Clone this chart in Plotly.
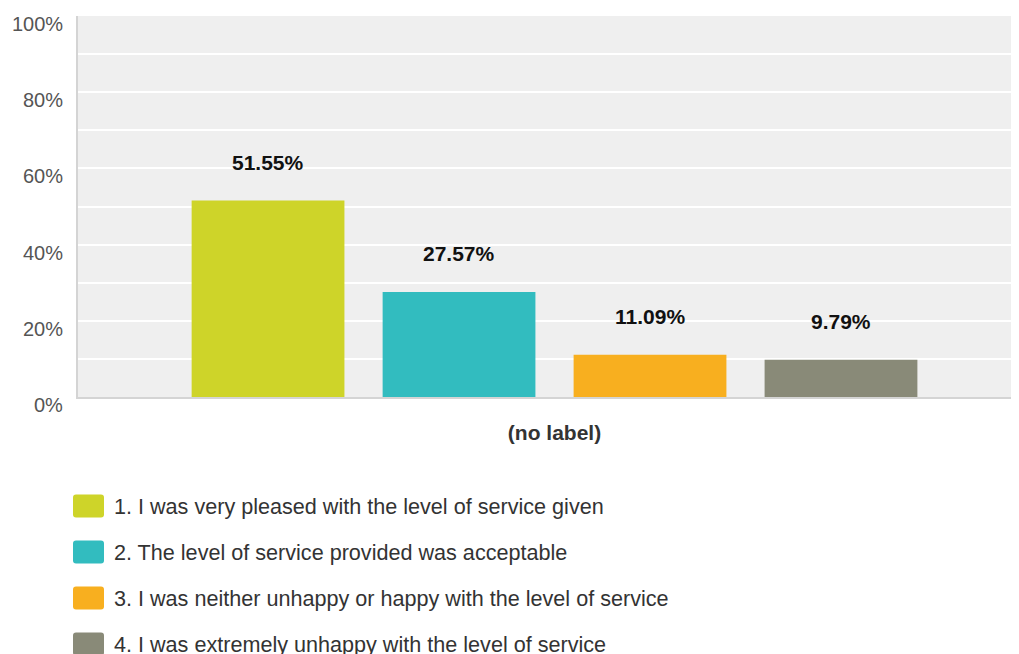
import plotly.graph_objects as go

# survey answers (single question, no label)
answers = [
    "1. I was very pleased with the level of service given",
    "2. The level of service provided was acceptable",
    "3. I was neither unhappy or happy with the level of service",
    "4. I was extremely unhappy with the level of service",
]
shares = [51.55, 27.57, 11.09, 9.79]
colors = ["#ced429", "#32bcbf", "#f8af1f", "#898a78"]
positions = [0, 1, 2, 3]

y_ticks = [0, 10, 20, 30, 40, 50, 60, 70, 80, 90, 100]
y_labels = ["0%", "", "20%", "", "40%", "", "60%", "", "80%", "", "100%"]

FONT = "Liberation Sans, Arial, sans-serif"

fig = go.Figure()
for pos, val, col, name in zip(positions, shares, colors, answers):
    fig.add_bar(x=[pos], y=[val], name=name, marker_color=col,
                marker_line_width=0, width=0.8, showlegend=False,
                hovertemplate="%{y:.2f}%<extra></extra>")

# value labels above the bars
for pos, val in zip(positions, shares):
    fig.add_annotation(x=pos, y=val, text=f"<b>{val:.2f}%</b>", showarrow=False,
                       yshift=38, font=dict(family=FONT, size=21, color="#111"))

# y tick labels sit a little below their grid lines
for v, lab in zip(y_ticks, y_labels):
    if lab:
        fig.add_annotation(xref="paper", x=0, y=v, text=lab, showarrow=False,
                           xanchor="right", xshift=-13, yshift=-8,
                           font=dict(family=FONT, size=20, color="#555"))

# legend drawn by hand so the swatches match the big rounded squares
for i, (name, col) in enumerate(zip(answers, colors)):
    off = -(109 + 46 * i)
    fig.add_shape(type="path", xref="paper", yref="paper",
                  xsizemode="pixel", ysizemode="pixel", xanchor=0, yanchor=0,
                  path=(f"M -2,{off + 11.5} L 23,{off + 11.5} Q 26,{off + 11.5} 26,{off + 8.5} "
                        f"L 26,{off - 8.5} Q 26,{off - 11.5} 23,{off - 11.5} "
                        f"L -2,{off - 11.5} Q -5,{off - 11.5} -5,{off - 8.5} "
                        f"L -5,{off + 8.5} Q -5,{off + 11.5} -2,{off + 11.5} Z"),
                  fillcolor=col, line_width=0)
    fig.add_annotation(xref="paper", yref="paper", x=0, y=0, xshift=34, yshift=off,
                       xanchor="left", yanchor="middle", text=name, showarrow=False,
                       font=dict(family=FONT, size=21.6, color="#333"))

# page body has an 8px margin, so the figure is trimmed by that much
fig.update_layout(
    width=1011, height=646,
    margin=dict(l=70, r=0, t=8, b=257),
    paper_bgcolor="white", plot_bgcolor="#efefef",
    font=dict(family=FONT, color="#555"),
)
fig.update_xaxes(range=[-0.995, 3.932], tickvals=[1.5], ticktext=["<b>(no label)</b>"],
                 tickfont=dict(size=21, color="#333"), showgrid=False, zeroline=False,
                 showline=True, linecolor="#d4d4d4", linewidth=2, ticks="",
                 ticklabelstandoff=16, fixedrange=True)
fig.update_yaxes(range=[0, 100], tickvals=y_ticks, showticklabels=False,
                 gridcolor="white", gridwidth=1.5,
                 zeroline=False, showline=True, linecolor="#d4d4d4", linewidth=2,
                 ticks="", fixedrange=True)

fig.write_html("out.html")
